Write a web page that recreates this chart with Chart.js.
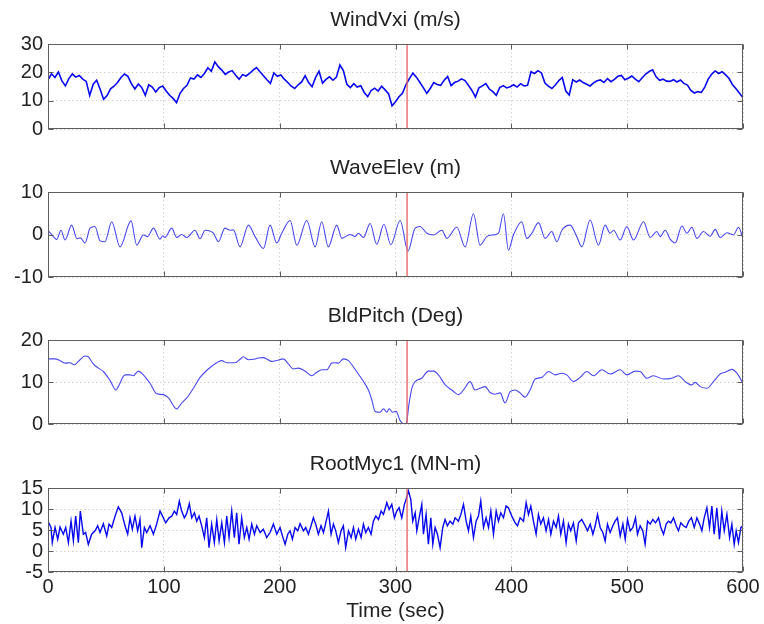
<!DOCTYPE html>
<html>
<head>
<meta charset="utf-8">
<title>Turbine time series</title>
<script src="https://cdn.jsdelivr.net/npm/chart.js@4.4.1/dist/chart.umd.min.js"></script>
<style>
  html, body { margin: 0; padding: 0; background: #ffffff; }
  #fig { position: relative; width: 764px; height: 624px; overflow: hidden; }
  #fig canvas { position: absolute; left: 0; }
</style>
</head>
<body>
<div id="fig">
  <canvas id="windPanel"></canvas>
  <canvas id="wavePanel"></canvas>
  <canvas id="pitchPanel"></canvas>
  <canvas id="rootPanel"></canvas>
</div>
<script>
// ---- Time axis -------------------------------------------------------------
const timeTicks = [0, 100, 200, 300, 400, 500, 600];
const eventTime = 310;            // vertical marker (sec)

// ---- WindVxi (m/s), sampled every 3 s from 0 to 600 s ------------------------
const windStep = 3;
const windVxi = [
  17.3, 19.5, 18.2, 20.1, 17.0, 15.2, 17.8, 19.4, 18.3, 18.9,
  17.6, 16.8, 11.8, 15.8, 17.2, 14.0, 10.5, 11.8, 14.2, 15.1,
  16.4, 18.2, 19.4, 18.6, 16.0, 14.1, 15.9, 14.6, 11.9, 15.6,
  14.8, 13.1, 14.6, 15.2, 13.4, 11.9, 10.8, 9.3, 12.6, 14.3,
  15.4, 18.0, 17.6, 19.1, 18.2, 19.6, 21.6, 20.4, 23.7, 22.0,
  20.8, 19.3, 20.1, 20.6, 19.0, 17.6, 19.2, 18.7, 19.6, 20.8,
  21.7, 20.2, 18.8, 17.4, 16.1, 19.8, 18.6, 19.1, 17.6, 16.4,
  15.1, 14.3, 15.6, 16.6, 18.8, 16.4, 14.9, 18.2, 20.4, 16.2,
  17.5, 18.4, 17.2, 18.3, 22.6, 20.6, 15.8, 14.6, 16.0, 14.8,
  15.3, 12.9, 11.4, 13.6, 14.4, 13.4, 15.1, 13.8, 12.5, 8.2,
  9.6, 11.4, 12.6, 15.6, 17.8, 19.7, 18.3, 16.5, 14.6, 12.6,
  14.3, 16.4, 15.7, 15.4, 17.2, 18.5, 15.3, 16.4, 16.9, 17.7,
  17.1, 15.4, 13.6, 11.3, 14.5, 15.2, 16.0, 14.1, 13.2, 11.9,
  14.6, 15.3, 14.5, 14.9, 15.6, 14.8, 16.0, 15.2, 15.4, 20.2,
  19.6, 20.6, 19.8, 16.2, 15.1, 14.3, 15.5, 17.1, 18.2, 13.4,
  12.0, 17.4, 16.6, 17.3, 16.4, 15.8, 15.2, 16.3, 17.0, 17.3,
  16.4, 17.8, 16.7, 17.5, 18.6, 18.9, 17.4, 17.9, 18.7, 17.6,
  16.7, 18.1, 19.4, 20.3, 20.9, 18.4, 17.2, 17.6, 16.9, 16.8,
  17.4, 16.6, 17.3, 16.1, 15.5, 13.6, 12.7, 13.2, 12.9, 14.8,
  17.6, 19.4, 20.5, 19.6, 20.2, 19.1, 17.8, 15.6, 14.2, 12.6,
  11.0
];

// ---- WaveElev (m): turning points of the surface elevation -----------------
const waveTime = [
  0, 4.6, 7.5, 11.2, 14.7, 20.4, 25.0, 28.0, 32.0, 36.3,
  40.6, 44.9, 49.2, 55.0, 62.2, 71.7, 76.6, 82.3, 86.0, 91.0,
  96.7, 99.0, 101.0, 106.8, 111.1, 115.4, 119.8, 126.9, 131.3, 135.6,
  142.8, 147.1, 152.8, 157.2, 160.0, 165.8, 173.0, 178.8, 186.0, 191.7,
  197.5, 201.8, 209.0, 214.8, 223.4, 230.6, 236.3, 242.0, 249.3, 253.6,
  260.8, 265.0, 268.0, 272.3, 278.1, 283.8, 290.0, 296.0, 304.0, 310.8,
  316.9, 321.2, 327.0, 332.8, 340.0, 344.3, 352.9, 360.1, 367.3, 373.0,
  378.8, 384.6, 388.9, 393.2, 397.5, 401.8, 409.0, 413.4, 417.7, 423.4,
  429.2, 434.9, 439.3, 443.6, 450.8, 456.5, 460.9, 468.0, 475.2, 481.0,
  485.3, 488.2, 494.0, 499.7, 505.5, 514.1, 519.9, 525.6, 528.5, 532.8,
  537.1, 541.5, 547.2, 551.6, 555.9, 560.2, 565.9, 571.7, 576.0, 580.3,
  586.1, 591.8, 596.1, 600
];
const waveElev = [
  1.0, -0.5, -1.2, 1.0, -1.3, 2.2, -1.0, -0.8, -2.0, 1.5,
  1.9, -1.5, -1.7, 3.0, -2.9, 3.2, -2.5, -0.1, -0.5, 1.5,
  -1.1, -0.3, -0.7, 1.5, -0.7, 0.0, -0.7, 1.0, -1.0, 1.0,
  0.3, -1.7, 1.5, 1.0, 1.1, -2.9, 2.2, -0.5, -3.3, 2.2,
  -2.0, 0.3, 3.3, -2.5, 3.3, -2.9, 3.0, -2.9, 2.2, -0.9,
  0.0, -0.5, 0.3, -0.7, 2.6, -2.3, 2.4, -2.4, 3.3, -3.9,
  1.5, 1.9, 0.3, -0.1, 1.0, -0.9, 1.7, -2.9, 4.9, -2.5,
  -0.5, -0.1, 0.3, 4.9, -3.7, -0.1, 3.0, -0.9, 0.3, 2.8,
  -0.9, 0.7, -1.7, 1.0, 2.2, -0.5, -2.9, 3.4, -2.5, 2.2,
  0.3, 1.0, -1.3, 1.9, -1.3, 3.0, -0.7, 0.7, -0.5, 1.0,
  -1.1, -2.0, 2.0, 0.3, 1.7, -0.9, 0.7, -0.4, 1.2, -0.7,
  0.4, -0.1, 1.7, -0.9
];

// ---- BldPitch (Deg) ---------------------------------------------------------
const pitchTime = [
  0, 6.0, 10.3, 14.7, 19.0, 22.5, 26.2, 32.0, 34.8, 39.1,
  43.5, 47.8, 53.5, 58.7, 60.7, 66.5, 70.8, 73.7, 78.0, 82.3,
  88.1, 93.9, 99.6, 104.0, 111.1, 115.4, 119.8, 125.5, 131.3, 138.4,
  145.6, 150.0, 154.3, 161.5, 165.8, 168.7, 173.0, 177.3, 181.6, 186.0,
  188.8, 193.1, 197.5, 203.2, 207.5, 211.9, 216.2, 221.9, 227.7, 232.0,
  236.3, 240.6, 245.0, 247.9, 250.7, 255.0, 259.4, 265.1, 270.9, 276.6,
  279.5, 282.4, 286.7, 289.6, 292.5, 294.5, 297.5, 300.5, 304.0, 307.5,
  309.5, 311.5, 314.1, 317.0, 322.7, 328.4, 332.8, 337.1, 342.9, 348.6,
  354.4, 358.7, 364.4, 368.7, 373.0, 377.4, 381.7, 386.0, 390.3, 394.6,
  399.0, 403.3, 407.6, 411.9, 416.2, 420.6, 426.3, 432.1, 437.8, 443.6,
  447.9, 453.7, 459.4, 465.2, 470.9, 478.1, 485.3, 494.0, 499.7, 506.9,
  511.2, 517.0, 522.7, 531.4, 538.6, 544.3, 550.1, 555.9, 558.7, 563.0,
  568.8, 574.5, 580.3, 584.6, 590.4, 594.7, 600
];
const bldPitch = [
  15.5, 15.5, 15.1, 14.5, 14.6, 14.1, 14.9, 16.2, 16.0, 14.3,
  13.3, 12.5, 10.4, 8.1, 8.9, 11.7, 11.7, 11.5, 12.6, 11.7,
  9.7, 7.2, 7.0, 6.2, 3.6, 5.0, 6.2, 8.5, 11.1, 13.1,
  14.6, 15.1, 14.6, 14.6, 15.4, 16.0, 15.3, 15.4, 15.7, 15.8,
  15.5, 14.9, 15.1, 15.5, 14.3, 13.1, 13.3, 12.6, 11.5, 12.3,
  12.9, 12.9, 14.5, 14.6, 14.5, 15.5, 15.1, 13.0, 10.7, 8.1,
  5.8, 3.0, 2.8, 3.6, 2.8, 3.6, 2.8, 3.0, 0.8, 0.0,
  0.3, 4.5, 8.5, 10.1, 10.9, 12.6, 12.6, 11.7, 9.3, 8.1,
  7.0, 8.1, 10.1, 8.1, 8.5, 8.9, 7.5, 7.1, 7.4, 5.0,
  7.7, 8.1, 7.4, 6.4, 8.1, 10.7, 11.1, 12.5, 11.7, 12.1,
  11.7, 10.1, 11.1, 12.5, 11.5, 12.9, 11.9, 12.9, 11.7, 12.6,
  12.5, 10.9, 11.5, 10.7, 10.9, 11.5, 10.1, 9.3, 9.9, 8.9,
  8.5, 10.1, 11.9, 12.3, 13.0, 12.1, 9.7
];

// ---- RootMyc1 (MN-m) --------------------------------------------------------
const rootTime = [
  0, 2.6, 3.7, 6.1, 8.4, 10.4, 13.2, 15.3, 17.6, 19.9,
  21.9, 23.9, 26.2, 27.9, 30.5, 32.5, 34.8, 37.7, 40.6, 42.9,
  44.9, 47.8, 50.7, 52.7, 55.0, 57.9, 60.7, 63.6, 66.5, 68.8,
  70.8, 72.8, 75.1, 77.4, 79.4, 80.9, 83.2, 85.2, 88.1, 91.0,
  93.8, 96.7, 99.6, 101.6, 104.5, 106.8, 109.1, 111.1, 113.4, 115.4,
  117.7, 119.7, 122.0, 124.1, 126.4, 128.4, 130.4, 132.7, 135.0, 137.0,
  139.0, 141.3, 143.6, 145.7, 147.7, 150.0, 152.3, 154.3, 156.3, 158.6,
  160.9, 162.9, 164.9, 167.2, 169.5, 171.6, 173.6, 175.9, 178.2, 180.2,
  183.1, 185.9, 188.8, 191.7, 194.6, 197.5, 200.3, 202.4, 204.7, 207.0,
  209.0, 211.0, 213.3, 215.6, 217.6, 220.5, 222.5, 224.8, 227.1, 229.1,
  231.1, 233.4, 235.7, 237.8, 239.8, 242.1, 244.4, 246.4, 248.4, 250.7,
  253.0, 255.0, 257.0, 259.4, 261.7, 263.7, 265.7, 268.0, 270.3, 272.3,
  274.3, 276.6, 278.9, 280.9, 283.0, 285.3, 287.6, 289.6, 292.5, 294.5,
  296.8, 299.1, 301.1, 303.1, 305.4, 307.7, 309.2, 311.2, 313.2, 314.9,
  317.0, 318.4, 320.7, 322.7, 324.1, 326.4, 328.4, 330.5, 332.2, 334.2,
  336.2, 338.5, 340.8, 342.8, 344.8, 347.1, 349.5, 351.5, 354.3, 356.4,
  358.7, 361.0, 363.0, 365.0, 367.3, 369.6, 371.6, 373.6, 376.0, 378.2,
  380.3, 382.3, 384.6, 386.9, 388.9, 390.9, 393.2, 395.5, 397.5, 400.4,
  403.3, 405.3, 407.6, 410.5, 412.8, 414.8, 416.8, 419.1, 421.4, 423.4,
  425.4, 427.7, 430.0, 432.1, 434.1, 436.4, 438.7, 440.7, 442.7, 445.0,
  447.3, 449.3, 451.3, 453.6, 456.0, 458.0, 460.8, 463.7, 465.7, 468.1,
  470.4, 472.4, 474.4, 476.7, 479.0, 481.0, 483.0, 485.3, 487.6, 489.6,
  491.6, 494.0, 496.3, 498.3, 500.3, 502.6, 504.9, 507.2, 508.9, 511.2,
  513.5, 515.5, 517.6, 519.9, 522.2, 524.5, 527.1, 529.1, 531.4, 533.7,
  535.7, 537.7, 540.0, 542.3, 544.3, 546.3, 548.6, 550.9, 553.2, 555.5,
  557.9, 560.2, 562.5, 564.5, 566.5, 568.8, 571.1, 573.1, 575.1, 577.4,
  579.7, 581.7, 583.8, 586.1, 588.4, 590.4, 592.4, 594.1, 596.1, 598.2,
  600
];
const rootMyc1 = [
  7.1, 5.6, 2.0, 5.6, 2.8, 5.7, 4.0, 5.6, 2.0, 7.1,
  2.4, 8.3, 2.0, 9.5, 4.0, 4.4, 1.6, 4.0, 4.8, 6.0,
  4.4, 6.5, 3.6, 6.4, 5.6, 8.3, 10.5, 9.1, 6.0, 4.0,
  7.9, 5.2, 8.3, 4.8, 7.5, 0.8, 5.6, 4.4, 6.0, 4.0,
  6.4, 9.5, 7.9, 6.7, 7.9, 8.3, 9.5, 8.7, 11.9, 9.5,
  7.9, 8.9, 11.3, 7.9, 9.1, 7.1, 8.3, 6.0, 3.2, 7.9,
  0.8, 6.4, 2.0, 7.5, 2.4, 6.7, 2.0, 8.3, 3.2, 9.5,
  3.2, 9.1, 1.6, 7.9, 3.2, 5.6, 2.8, 6.4, 4.0, 6.0,
  4.4, 5.2, 3.2, 4.4, 6.4, 4.0, 5.6, 3.6, 1.6, 4.0,
  4.8, 2.8, 5.6, 4.8, 6.5, 4.8, 5.6, 4.0, 6.0, 7.9,
  6.4, 4.0, 6.0, 4.4, 6.7, 9.5, 4.0, 6.4, 4.8, 2.0,
  4.8, 6.0, 0.8, 4.8, 3.2, 5.6, 2.8, 5.2, 3.2, 6.4,
  4.4, 5.6, 4.0, 7.1, 8.3, 7.5, 9.5, 8.7, 11.5, 9.9,
  11.1, 7.9, 9.5, 10.3, 7.9, 11.1, 12.3, 14.3, 12.3, 7.1,
  9.1, 4.8, 8.3, 11.1, 4.0, 8.7, 1.6, 7.9, 1.6, 5.6,
  4.0, 0.8, 5.6, 7.5, 6.0, 7.1, 6.4, 7.9, 7.1, 8.7,
  11.1, 7.1, 4.8, 8.3, 3.2, 7.1, 8.3, 11.9, 5.6, 7.9,
  5.6, 9.5, 4.0, 9.5, 7.1, 9.1, 7.9, 10.7, 10.3, 8.3,
  6.7, 6.0, 7.9, 7.1, 11.5, 8.7, 10.7, 7.1, 4.0, 8.7,
  6.4, 7.9, 4.8, 7.5, 4.0, 7.1, 5.6, 8.3, 4.0, 7.1,
  2.0, 6.4, 4.8, 6.7, 2.4, 6.7, 7.5, 6.0, 4.8, 6.4,
  4.0, 6.0, 8.7, 5.6, 4.4, 2.4, 6.4, 4.4, 6.0, 7.1,
  7.9, 3.6, 6.4, 2.8, 7.5, 4.8, 5.6, 7.9, 4.0, 6.0,
  4.8, 1.6, 7.1, 6.4, 7.5, 6.7, 7.9, 5.6, 4.0, 6.4,
  7.1, 6.7, 7.9, 6.0, 4.8, 6.7, 6.0, 5.6, 7.1, 7.9,
  5.6, 7.9, 6.4, 4.8, 7.9, 10.3, 5.6, 10.7, 4.0, 10.3,
  2.8, 9.5, 4.8, 8.7, 3.2, 6.4, 1.6, 4.8, 2.0, 5.6,
  6.0
];

// ---- Axis ticks per panel ---------------------------------------------------
const windTicks  = [0, 10, 20, 30];
const waveTicks  = [-10, 0, 10];
const pitchTicks = [0, 10, 20];
const rootTicks  = [-5, 0, 5, 10, 15];

// ---- Styling ----------------------------------------------------------------
const FONT = "'Liberation Sans', Arial, Helvetica, sans-serif";
const INK = '#222222';
const FRAME = '#5e5e5e';
const GRID = '#d2d2d2';
const TRACE_DARK = '#0808ee';
const TRACE_LIGHT = '#4848f2';
const MARKER = 'rgba(232, 100, 100, 0.85)';
const CANVAS_W = 764;
const PLOT_RIGHT = 743;
const AXIS_W = 48;
const TITLE_BAND = 44;

// Box around each plot area plus inward tick marks on all four sides.
const framePlugin = {
  id: 'frame',
  afterDraw(chart) {
    const { ctx, chartArea: a, scales } = chart;
    const L = Math.round(a.left) + 0.5;
    const R = Math.round(a.right) - 0.5;
    const T = Math.round(a.top) + 0.5;
    const B = Math.round(a.bottom) - 0.5;
    const len = 5;
    ctx.save();
    ctx.strokeStyle = FRAME;
    ctx.lineWidth = 1;
    ctx.beginPath();
    scales.x.ticks.forEach(t => {
      const px = Math.round(scales.x.getPixelForValue(t.value)) + 0.5;
      ctx.moveTo(px, B); ctx.lineTo(px, B - len);
      ctx.moveTo(px, T); ctx.lineTo(px, T + len);
    });
    scales.y.ticks.forEach(t => {
      const py = Math.round(scales.y.getPixelForValue(t.value)) + 0.5;
      ctx.moveTo(L, py); ctx.lineTo(L + len, py);
      ctx.moveTo(R, py); ctx.lineTo(R - len, py);
    });
    ctx.stroke();
    ctx.strokeRect(L, T, R - L, B - T);
    ctx.restore();
  }
};

function toPoints(times, values) {
  return values.map((v, i) => ({ x: times[i], y: v }));
}

function makePanel(id, cfg) {
  const canvas = document.getElementById(id);
  const h = TITLE_BAND + cfg.plotHeight + cfg.bottomBand;
  canvas.width = CANVAS_W;
  canvas.height = h;
  canvas.style.width = CANVAS_W + 'px';
  canvas.style.height = h + 'px';
  canvas.style.top = (cfg.plotTop - TITLE_BAND) + 'px';

  const yTicks = cfg.yTicks;
  const yMin = yTicks[0];
  const yMax = yTicks[yTicks.length - 1];
  const showX = cfg.showTime;

  return new Chart(canvas, {
    type: 'line',
    data: {
      datasets: [
        {
          label: 'event',
          data: [{ x: eventTime, y: yMin }, { x: eventTime, y: yMax }],
          borderColor: MARKER,
          borderWidth: 1.6,
          pointRadius: 0,
          tension: 0
        },
        {
          label: cfg.title,
          data: cfg.points,
          borderColor: cfg.color,
          borderWidth: cfg.lineWidth,
          pointRadius: 0,
          tension: cfg.smooth ? 0.4 : 0,
          cubicInterpolationMode: cfg.smooth ? 'monotone' : 'default'
        }
      ]
    },
    options: {
      responsive: false,
      animation: false,
      events: [],
      layout: {
        padding: { left: 0, right: CANVAS_W - PLOT_RIGHT, top: 0, bottom: showX ? 0 : cfg.bottomBand }
      },
      plugins: {
        legend: { display: false },
        tooltip: { enabled: false },
        title: {
          display: true,
          text: cfg.title,
          fullSize: false,
          color: INK,
          font: { family: FONT, size: 21, weight: 'normal', lineHeight: 1.2 },
          padding: { top: 8, bottom: TITLE_BAND - 8 - 25.2 }
        }
      },
      scales: {
        x: {
          type: 'linear',
          min: timeTicks[0],
          max: timeTicks[timeTicks.length - 1],
          afterBuildTicks: s => { s.ticks = timeTicks.map(v => ({ value: v })); },
          afterFit: s => {
            s.height = showX ? cfg.bottomBand : 0;
            s.paddingLeft = 0; s.paddingRight = 0;
          },
          ticks: {
            display: showX,
            color: INK,
            font: { family: FONT, size: 20 },
            padding: 3,
            maxRotation: 0,
            autoSkip: false
          },
          grid: { color: GRID, lineWidth: 1, drawTicks: false },
          border: { display: false, dash: [1.5, 2.5] },
          title: {
            display: showX,
            text: 'Time (sec)',
            color: INK,
            font: { family: FONT, size: 21, lineHeight: 1.2 },
            padding: { top: 0, bottom: 0 }
          }
        },
        y: {
          type: 'linear',
          min: yMin,
          max: yMax,
          afterBuildTicks: s => { s.ticks = yTicks.map(v => ({ value: v })); },
          afterFit: s => {
            s.width = AXIS_W;
            s.paddingTop = 0; s.paddingBottom = 0;
          },
          ticks: {
            color: INK,
            font: { family: FONT, size: 20 },
            padding: 5,
            autoSkip: false
          },
          grid: { color: GRID, lineWidth: 1, drawTicks: false },
          border: { display: false, dash: [1.5, 2.5] }
        }
      }
    },
    plugins: [framePlugin]
  });
}

makePanel('windPanel', {
  title: 'WindVxi (m/s)',
  plotTop: 44, plotHeight: 85, bottomBand: 14,
  yTicks: windTicks,
  points: windVxi.map((v, i) => ({ x: i * windStep, y: v })),
  color: TRACE_DARK, lineWidth: 1.6, smooth: false, showTime: false
});

makePanel('wavePanel', {
  title: 'WaveElev (m)',
  plotTop: 192, plotHeight: 85, bottomBand: 14,
  yTicks: waveTicks,
  points: toPoints(waveTime, waveElev),
  color: TRACE_LIGHT, lineWidth: 1.1, smooth: true, showTime: false
});

makePanel('pitchPanel', {
  title: 'BldPitch (Deg)',
  plotTop: 340, plotHeight: 84, bottomBand: 14,
  yTicks: pitchTicks,
  points: toPoints(pitchTime, bldPitch),
  color: TRACE_LIGHT, lineWidth: 1.1, smooth: true, showTime: false
});

makePanel('rootPanel', {
  title: 'RootMyc1 (MN-m)',
  plotTop: 488, plotHeight: 84, bottomBand: 52,
  yTicks: rootTicks,
  points: toPoints(rootTime, rootMyc1),
  color: TRACE_DARK, lineWidth: 1.4, smooth: false, showTime: true
});
</script>
</body>
</html>
